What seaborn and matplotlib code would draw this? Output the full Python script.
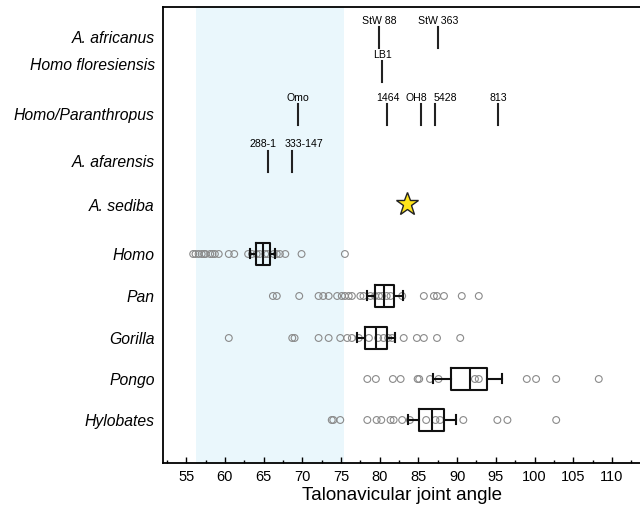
import numpy as np
import pandas as pd
import seaborn as sns
import matplotlib.pyplot as plt
from matplotlib.ticker import MultipleLocator

# extant samples (talonavicular joint angle, degrees)
groups = ['Homo', 'Pan', 'Gorilla', 'Pongo', 'Hylobates']
homo = [55.9, 56.2, 56.6, 57.0, 57.3, 57.5, 58.1, 58.4, 58.7, 59.2, 60.5, 61.2,
        63.0, 63.5, 64.1, 64.5, 65.2, 65.5, 66.3, 66.7, 67.1, 67.8, 69.9, 75.5]
pan = [66.2, 66.7, 69.6, 72.1, 72.7, 73.4, 74.5, 75.1, 75.5, 76.0, 76.4, 77.5,
       77.9, 78.8, 79.4, 79.9, 80.3, 80.9, 81.4, 82.9, 85.7, 87.0, 87.4, 88.3,
       90.6, 92.8]
gorilla = [60.5, 68.7, 69.0, 72.1, 73.4, 74.9, 75.8, 76.4, 77.3, 78.6, 79.8,
           80.5, 81.1, 81.6, 83.1, 84.8, 85.7, 87.4, 90.4]
pongo = [78.4, 79.5, 81.7, 82.7, 84.9, 85.1, 86.5, 87.6, 92.3, 92.8, 99.0,
         100.2, 102.8, 108.3]
hylobates = [73.8, 74.0, 74.9, 78.4, 79.6, 80.2, 81.4, 81.8, 82.9, 83.9, 86.0,
             87.2, 87.8, 90.8, 95.2, 96.5, 102.8]

# box summaries as drawn (q1, median, q3, whiskers)
box_whislo = [63.3, 78.3, 77.1, 86.9, 83.6]
box_q1 = [64.0, 79.4, 78.1, 89.2, 85.1]
box_med = [64.9, 80.6, 79.5, 91.6, 86.7]
box_q3 = [65.85, 81.8, 80.9, 93.8, 88.3]
box_whishi = [66.5, 83.0, 82.0, 95.8, 89.8]

# fossils
fossil_taxa = ['A. africanus', 'Homo floresiensis', 'Homo/Paranthropus', 'A. afarensis']
fossil_names = [['StW 88', 'StW 363'], ['LB1'],
                ['Omo', '1464', 'OH8', '5428', '813'], ['288-1', '333-147']]
fossil_angles = [[79.9, 87.5], [80.3], [69.4, 81.0, 85.3, 87.1, 95.3], [65.6, 68.7]]
sediba_angle = 83.5
human_range = (56.2, 75.4)

# layout (vertical positions of rows, top to bottom; label nudges)
label_y = [37, 64, 114, 161, 205, 254, 296, 338, 379, 420]
fossil_line_y = [38, 72, 115, 161.5]
label_dx = [[0, 0], [0], [0, 0, -0.6, 1.4, 0], [-0.7, 1.5]]
sediba_y = 204
group_y = label_y[5:]
row_labels = fossil_taxa + ['A. sediba'] + groups

plt.rcParams['font.family'] = ['Liberation Sans', 'DejaVu Sans']

fig = plt.figure(figsize=(6.4, 5.09), dpi=100)
ax = fig.add_axes([163 / 640, 1 - 463 / 509, 1 - 163 / 640, (463 - 7) / 509])

ax.axvspan(*human_range, color='#eaf7fc', lw=0, zorder=0)

df = pd.concat([pd.DataFrame({'angle': v, 'group': g})
                for g, v in zip(groups, [homo, pan, gorilla, pongo, hylobates])])
df['y'] = df['group'].map(dict(zip(groups, group_y)))
sns.scatterplot(data=df, x='angle', y='y', marker='o', s=24, fc='none',
                ec='#8a8a8a', linewidth=0.8, ax=ax, zorder=2, legend=False)

stats = [dict(whislo=a, q1=b, med=c, q3=d, whishi=e, fliers=[])
         for a, b, c, d, e in zip(box_whislo, box_q1, box_med, box_q3, box_whishi)]
lp = dict(color='#111111', lw=1.5)
ax.bxp(stats, positions=group_y, widths=22, orientation='horizontal',
       showfliers=False, manage_ticks=False, boxprops=lp, medianprops=lp,
       whiskerprops=lp, capprops=lp, capwidths=9)

for yc, names, vals, dxs in zip(fossil_line_y, fossil_names, fossil_angles, label_dx):
    for n, v, dx in zip(names, vals, dxs):
        ax.plot([v, v], [yc - 10.5, yc + 10.5], color='#222222', lw=1.5)
        ax.text(v + dx, yc - 12, n, ha='center', va='bottom', fontsize=7.6)

ax.plot([sediba_angle], [sediba_y], marker='*', ms=17, mfc='#ffe51a',
        mec='#222222', mew=1.0, ls='none', zorder=4)

ax.set_xlim(52, 52 + (640 - 163) / 7.74)
ax.set_ylim(463, 7)
ax.xaxis.set_major_locator(MultipleLocator(5))
ax.xaxis.set_minor_locator(MultipleLocator(2.5))
ax.set_xticks(np.arange(55, 111, 5))
ax.tick_params(axis='x', which='major', direction='in', length=4.5, width=1,
               labelsize=10.5, pad=5)
ax.tick_params(axis='x', which='minor', direction='in', length=2.3, width=1)
ax.set_yticks(label_y)
ax.set_yticklabels(row_labels, style='italic', fontsize=11.3)
ax.tick_params(axis='y', length=0, pad=6)
ax.set_xlabel('Talonavicular joint angle', fontsize=13.5, labelpad=2)
ax.set_ylabel('')
for s in ['left', 'top', 'bottom']:
    ax.spines[s].set_linewidth(1.3)
ax.spines['right'].set_visible(False)

fig.savefig('out.png', dpi=100)
